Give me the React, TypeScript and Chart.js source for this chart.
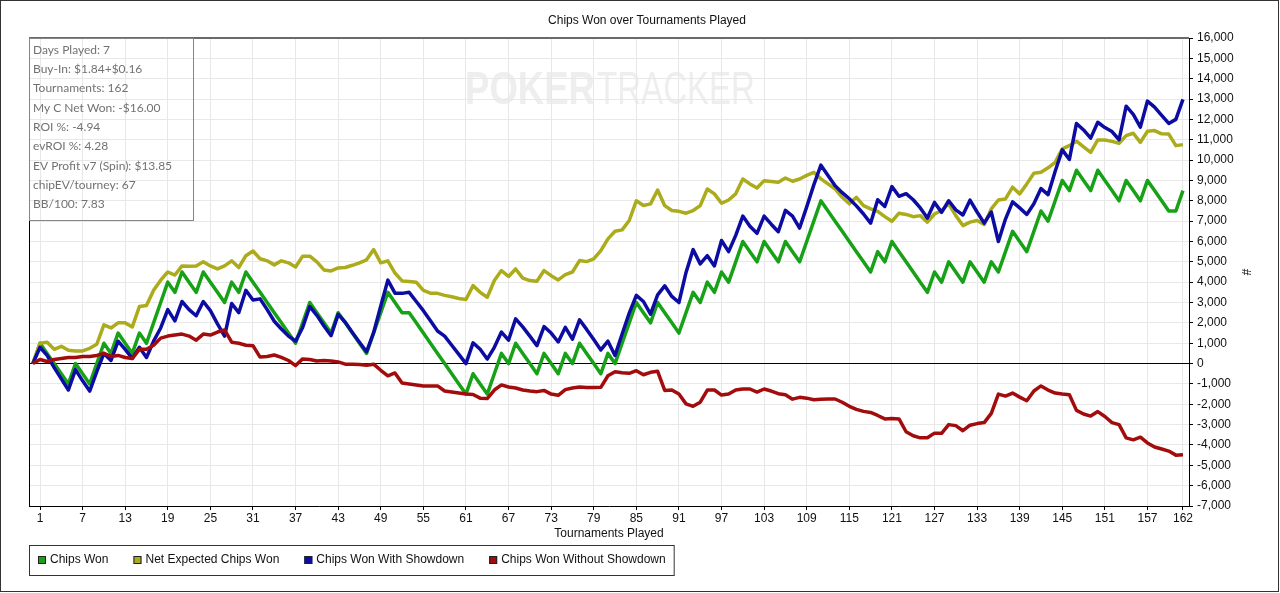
import React, { useEffect, useRef } from "react";
import { Chart, registerables } from "chart.js";

Chart.register(...registerables);

const TITLE = "Chips Won over Tournaments Played";
const X_TITLE = "Tournaments Played";
const Y_TITLE = "#";
const WATERMARK_BOLD = "POKER";
const WATERMARK_LIGHT = "TRACKER";

const STATS = [
  "Days Played: 7",
  "Buy-In: $1.84+$0.16",
  "Tournaments: 162",
  "My C Net Won: -$16.00",
  "ROI %: -4.94",
  "evROI %: 4.28",
  "EV Profit v7 (Spin): $13.85",
  "chipEV/tourney: 67",
  "BB/100: 7.83",
];

const X_TICKS = [1, 7, 13, 19, 25, 31, 37, 43, 49, 55, 61, 67, 73, 79, 85, 91, 97, 103, 109, 115, 121, 127, 133, 139, 145, 151, 157, 162];
const Y_MIN = -7000;
const Y_MAX = 16000;
const Y_STEP = 1000;

const SERIES_NAMES = ["Chips Won", "Net Expected Chips Won", "Chips Won With Showdown", "Chips Won Without Showdown"];
const SERIES_COLORS = ["#17a117", "#abab1c", "#0c0ca3", "#a30c0c"];

const chipsWon = [
  0, 1000, 500, 0, -500, -1000, 0, -500, -1000, 0,
  1000, 500, 1500, 1000, 500, 1500, 1000, 2000, 3000, 4000,
  3500, 4500, 4000, 3500, 4500, 4000, 3500, 3000, 4000, 3500,
  4500, 4000, 3500, 3000, 2500, 2000, 1500, 1000, 2000, 3000,
  2500, 2000, 1500, 2500, 2000, 1500, 1000, 500, 1500, 2500,
  3500, 3000, 2500, 2500, 2000, 1500, 1000, 500, 0, -500,
  -1000, -1500, -500, -1000, -1500, -500, 500, 0, 1000, 500,
  0, -500, 500, 0, -500, 500, 0, 1000, 500, 0,
  -500, 500, 0, 1000, 2000, 3000, 2500, 2000, 3000, 2500,
  2000, 1500, 2500, 3500, 3000, 4000, 3500, 4500, 4000, 5000,
  6000, 5500, 5000, 6000, 5500, 5000, 6000, 5500, 5000, 6000,
  7000, 8000, 7500, 7000, 6500, 6000, 5500, 5000, 4500, 5500,
  5000, 6000, 5500, 5000, 4500, 4000, 3500, 4500, 4000, 5000,
  4500, 4000, 5000, 4500, 4000, 5000, 4500, 5500, 6500, 6000,
  5500, 6500, 7500, 7000, 8000, 9000, 8500, 9500, 9000, 8500,
  9500, 9000, 8500, 8000, 9000, 8500, 8000, 9000, 8500, 8000,
  7500, 7500, 8500,
];

const netExpected = [
  0, 1000, 1050, 700, 850, 650, 620, 620, 750, 950,
  1900, 1750, 2000, 2000, 1800, 2800, 2850, 3600, 4100, 4500,
  4350, 4800, 4780, 4800, 5000, 4800, 4650, 4800, 5050, 4720,
  5300, 5530, 5150, 5050, 4850, 5050, 4950, 4750, 5280, 5280,
  5000, 4600, 4550, 4700, 4720, 4830, 4950, 5100, 5600, 4950,
  5050, 4450, 4060, 4030, 4000, 3600, 3460, 3450, 3350, 3280,
  3200, 3150, 3830, 3500, 3260, 4080, 4570, 4280, 4650, 4200,
  4080, 4050, 4570, 4320, 4110, 4370, 4500, 5060, 5010, 5140,
  5550, 6130, 6500, 6570, 7030, 8000, 7770, 7850, 8530, 7760,
  7520, 7480, 7390, 7520, 7760, 8580, 8340, 7880, 8040, 8340,
  9070, 8830, 8630, 8990, 8950, 8910, 9120, 8960, 9070, 9250,
  9400, 9080, 8830, 8580, 8170, 7850, 8170, 7760, 7600, 7480,
  7220, 6990, 7390, 7330, 7220, 7270, 6950, 7350, 7520, 7850,
  7270, 6780, 6950, 7030, 6830, 7600, 8040, 8090, 8670, 8340,
  8830, 9350, 9400, 9620, 9890, 10550, 10710, 10930, 10650, 10380,
  10990, 10990, 10920, 10830, 11200, 11320, 10870, 11420, 11450, 11290,
  11280, 10710, 10760,
];

const withShowdown = [
  0, 800, 400, -200, -750, -1300, -300, -850, -1350, -400,
  500, 150, 1100, 700, 250, 800, 300, 1100, 1750, 2650,
  2100, 3050, 2650, 2350, 3050, 2600, 1950, 1350, 2950, 2500,
  3600, 3120, 3180, 2650, 2080, 1700, 1350, 1100, 1770, 2800,
  2370, 1850, 1370, 2420, 2030, 1530, 1050, 580, 1530, 2830,
  4100, 3460, 3450, 3500, 3050, 2600, 2100, 1600, 1350, 900,
  450, 0, 1020, 700, 220, 800, 1550, 1150, 2200, 1800,
  1350, 880, 1820, 1500, 1060, 1780, 1200, 2150, 1680, 1180,
  670, 1100, 400, 1450, 2480, 3350, 3050, 2430, 3380, 3820,
  3300, 3000, 4480, 5600, 4900, 5300, 4800, 6050, 5500, 6300,
  7250, 6750, 6400, 7250, 6850, 6480, 7530, 7250, 6660, 7700,
  8780, 9750, 9240, 8740, 8400, 8100, 7750, 7350, 6900, 8050,
  7720, 8700, 8220, 8350, 8050, 7650, 7150, 7920, 7430, 8000,
  7550, 7300, 8030, 7450, 6900, 7450, 6000, 7100, 7950, 7650,
  7330, 7850, 8600, 8300, 9450, 10500, 10030, 11800, 11480, 11080,
  11860, 11600, 11400, 11000, 12650, 12250, 11620, 12900, 12600, 12200,
  11800, 12000, 12980,
];

const withoutShowdown = [
  0, 200, 100, 200, 250, 300, 300, 350, 350, 400,
  500, 350, 400, 300, 250, 700, 700, 900, 1250, 1350,
  1400, 1450, 1350, 1150, 1450, 1400, 1550, 1650, 1050, 1000,
  900, 880, 320, 350, 420, 300, 150, -100, 230, 200,
  130, 150, 130, 80, -30, -30, -50, -80, -30, -330,
  -600, -460, -950, -1000, -1050, -1100, -1100, -1100, -1350, -1400,
  -1450, -1500, -1520, -1700, -1720, -1300, -1050, -1150, -1200, -1300,
  -1350, -1380, -1320, -1500, -1560, -1280, -1200, -1150, -1180, -1180,
  -1170, -600, -400, -450, -480, -350, -550, -430, -380, -1320,
  -1300, -1500, -1980, -2100, -1900, -1300, -1300, -1550, -1500, -1300,
  -1250, -1250, -1400, -1250, -1350, -1480, -1530, -1750, -1660, -1700,
  -1780, -1750, -1740, -1740, -1900, -2100, -2250, -2350, -2400, -2550,
  -2720, -2700, -2720, -3350, -3550, -3650, -3650, -3420, -3430, -3000,
  -3050, -3300, -3030, -2950, -2900, -2450, -1500, -1600, -1450, -1650,
  -1830, -1350, -1100, -1300, -1450, -1500, -1530, -2300, -2480, -2580,
  -2360, -2600, -2900, -3000, -3650, -3750, -3620, -3900, -4100, -4200,
  -4300, -4500, -4480,
];

const SERIES_VALUES = [chipsWon, netExpected, withShowdown, withoutShowdown];
const tournaments = chipsWon.map((_, i) => i);

const FONT = "'Liberation Sans', Arial, sans-serif";

const decorPlugin = {
  id: "decor",
  beforeDraw(chart: any) {
    const { ctx, width, height } = chart;
    ctx.save();
    ctx.fillStyle = "#ffffff";
    ctx.fillRect(0, 0, width, height);
    // watermark
    ctx.fillStyle = "#eeeeee";
    ctx.textBaseline = "alphabetic";
    ctx.textAlign = "left";
    ctx.font = `bold 47px 'Liberation Sans Narrow', 'Liberation Sans', sans-serif`;
    const w1 = ctx.measureText(WATERMARK_BOLD).width;
    ctx.save();
    ctx.translate(465, 104);
    ctx.scale(130 / w1, 1);
    ctx.fillText(WATERMARK_BOLD, 0, 0);
    ctx.restore();
    ctx.font = `47px 'Liberation Sans Narrow', 'Liberation Sans', sans-serif`;
    const w2 = ctx.measureText(WATERMARK_LIGHT).width;
    ctx.save();
    ctx.translate(597, 104);
    ctx.scale(158 / w2, 1);
    ctx.fillText(WATERMARK_LIGHT, 0, 0);
    ctx.restore();
    ctx.restore();
  },
  afterDraw(chart: any) {
    const { ctx, chartArea } = chart;
    const { left, right, top, bottom } = chartArea;
    ctx.save();
    // plot borders (top & left)
    ctx.strokeStyle = "#6a6a6a";
    ctx.lineWidth = 2;
    ctx.beginPath();
    ctx.moveTo(left, top);
    ctx.lineTo(right, top);
    ctx.stroke();
    ctx.strokeStyle = "#000";
    ctx.lineWidth = 1;
    ctx.beginPath();
    ctx.moveTo(left + 0.5, top);
    ctx.lineTo(left + 0.5, bottom);
    ctx.stroke();

    // title
    ctx.fillStyle = "#111";
    ctx.font = `12px ${FONT}`;
    ctx.textAlign = "center";
    ctx.textBaseline = "middle";
    ctx.fillText(TITLE, chart.width / 2 + 7, 21);

    // x title
    ctx.fillText(X_TITLE, (left + right) / 2, 534);

    // y title
    ctx.save();
    ctx.translate(1245, (top + bottom) / 2);
    ctx.rotate(Math.PI / 2);
    ctx.fillText(Y_TITLE, 0, 0);
    ctx.restore();

    // stats box
    ctx.strokeStyle = "#858585";
    ctx.lineWidth = 1;
    ctx.strokeRect(left + 0.5, top + 0.5, 164, 182);
    ctx.fillStyle = "#727272";
    ctx.font = `12px Lato, 'Noto Sans', sans-serif`;
    ctx.textAlign = "left";
    STATS.forEach((s, i) => {
      ctx.fillText(s, left + 4, 50 + i * 19.3);
    });

    // legend
    ctx.font = `12px ${FONT}`;
    ctx.textBaseline = "middle";
    let x = 38;
    const cy = 560;
    SERIES_NAMES.forEach((name, i) => {
      ctx.fillStyle = SERIES_COLORS[i];
      ctx.fillRect(x, cy - 4, 8, 8);
      ctx.strokeStyle = "#222";
      ctx.strokeRect(x + 0.5, cy - 3.5, 7, 7);
      ctx.fillStyle = "#111";
      ctx.fillText(name, x + 12, cy);
      const w = ctx.measureText(name).width;
      x += 12 + w + (i < SERIES_NAMES.length - 1 ? 25 : 0);
    });
    ctx.strokeStyle = "#333";
    ctx.strokeRect(left + 0.5, 545.5, x + 8 - left, 30);

    // outer frame
    ctx.strokeStyle = "#333";
    ctx.strokeRect(0.5, 0.5, chart.width - 2, chart.height - 2);
    ctx.restore();
  },
};

export default function App() {
  const ref = useRef<HTMLCanvasElement | null>(null);
  useEffect(() => {
    if (!ref.current) return;
    const datasets = SERIES_NAMES.map((name, i) => ({
      label: name,
      data: SERIES_VALUES[i].map((v, j) => ({ x: tournaments[j], y: v })),
      borderColor: SERIES_COLORS[i],
      backgroundColor: SERIES_COLORS[i],
      borderWidth: 3.5,
      pointRadius: 0,
      tension: 0,
      fill: false,
      borderJoinStyle: "round" as const,
      order: SERIES_NAMES.length - i,
    }));
    const chart = new Chart(ref.current, {
      type: "line",
      data: { datasets },
      options: {
        responsive: false,
        animation: false,
        events: [],
        layout: { padding: { left: 29, top: 38, right: 0, bottom: 0 } },
        plugins: {
          legend: { display: false },
          title: { display: false },
          tooltip: { enabled: false },
        },
        scales: {
          x: {
            type: "linear",
            min: -0.55,
            max: 162.85,
            afterBuildTicks: (scale: any) => {
              scale.ticks = X_TICKS.map((v) => ({ value: v }));
            },
            afterFit: (scale: any) => {
              scale.height = 87;
            },
            grid: { color: "#e8e8e8", tickColor: "#000", tickLength: 4, lineWidth: 1 },
            border: { color: "#000", width: 1 },
            ticks: {
              autoSkip: false,
              maxRotation: 0,
              padding: 1,
              color: "#111",
              font: { family: FONT, size: 12 },
              callback: (v: any) => String(v),
            },
          },
          y: {
            type: "linear",
            position: "right",
            min: Y_MIN,
            max: Y_MAX,
            afterFit: (scale: any) => {
              scale.width = 91;
            },
            grid: {
              color: (c: any) => (c.tick && c.tick.value === 0 ? "#000" : "#e8e8e8"),
              tickColor: "#000",
              tickLength: 4,
            },
            border: { color: "#000", width: 1 },
            ticks: {
              stepSize: Y_STEP,
              padding: 4,
              color: "#111",
              font: { family: FONT, size: 12 },
              callback: (v: any) => Number(v).toLocaleString("en-US"),
            },
          },
        },
      },
      plugins: [decorPlugin],
    });
    return () => chart.destroy();
  }, []);
  return (
    <div style={{ position: "absolute", left: 0, top: 0, width: 1280, height: 593 }}>
      <canvas ref={ref} width={1280} height={593} style={{ display: "block", width: 1280, height: 593 }} />
    </div>
  );
}
